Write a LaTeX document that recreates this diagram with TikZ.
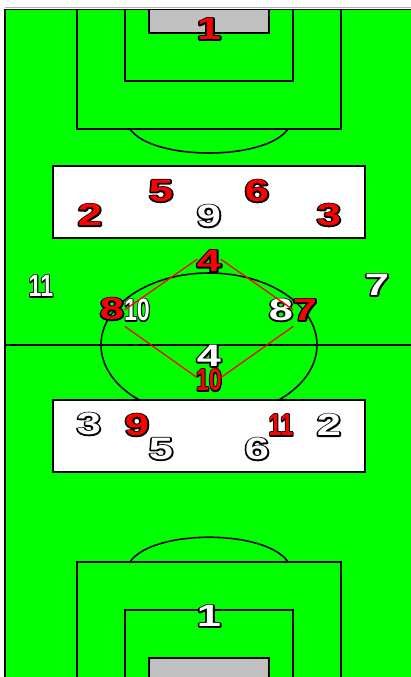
\documentclass[tikz,border=0pt]{standalone}
\usepackage{fontspec}
\setmainfont{Liberation Sans}
\usetikzlibrary{positioning}
\definecolor{pitch}{RGB}{0,255,0}
\definecolor{goalgrey}{RGB}{192,192,192}

% black stroked copy under the filled digits
\newcommand{\outlined}[1]{\rlap{\special{pdf:literal direct 1 Tr 2.6 w 1 j 0 0 0 RG}#1\special{pdf:literal direct 0 Tr}}#1}
\newcommand{\plnum}[1]{\scalebox{1.4}[1]{\outlined{#1}}}
\newcommand{\plnarrow}[1]{\scalebox{0.75}[1]{\outlined{#1}}}

\begin{document}
\begin{tikzpicture}[
    x=1pt, y=-1pt,
    line/.style={draw=black, line width=1.6pt},
    whitebox/.style={line, fill=white},
    goal/.style={line, fill=goalgrey},
    redno/.style={inner sep=0pt, text=red, font=\fontsize{31}{31}\selectfont\bfseries},
    whiteno/.style={inner sep=0pt, text=white, font=\fontsize{31}{31}\selectfont\bfseries},
    link/.style={draw=red, line width=1.3pt, shorten >=14.5pt, shorten <=14.5pt}
]
    \useasboundingbox (0,0) rectangle (411,677);
    \clip (0,0) rectangle (411,677);

    % pitch
    \draw[gray!60, line width=1pt] (5,8) -- (411,8);
    \fill[pitch] (5,9.5) rectangle (420,690);
    \draw[line] (5,690) -- (5,9.5) -- (420,9.5);
    \draw[line] (5,345) -- (420,345);
    \draw[line] (209,345) ellipse [x radius=108pt, y radius=72pt];

    % top end
    \draw[line] (77,9.5) rectangle (341,129);
    \draw[line] (125,9.5) rectangle (293,81);
    \draw[goal] (149,9.5) rectangle (269,33);
    \draw[line] (130,129) .. controls (152,161) and (266,161) .. (288,129);

    % bottom end
    \draw[line] (77,562) rectangle (341,690);
    \draw[line] (125,610) rectangle (293,690);
    \draw[goal] (149,658) rectangle (269,690);
    \draw[line] (130,562) .. controls (152,529) and (266,529) .. (288,562);

    % midfield zones
    \draw[whitebox] (53,166) rectangle (365,238);
    \draw[whitebox] (53,400) rectangle (365,472);

    % white team
    \node[whiteno] (w9) at (209,216) {\plnum{9}};
    \node[whiteno] (w11) at (41,286) {\plnarrow{11}};
    \node[whiteno] (w10) at (137,310) {\plnarrow{10}};
    \node[whiteno] (w8) at (281,310) {\plnum{8}};
    \node[whiteno] (w7) at (377,285) {\plnum{7}};
    \node[whiteno] (w4) at (209,356) {\plnum{4}};
    \node[whiteno] (w3) at (89,424) {\plnum{3}};
    \node[whiteno] (w5) at (161,449) {\plnum{5}};
    \node[whiteno] (w6) at (257,449) {\plnum{6}};
    \node[whiteno] (w2) at (329,425) {\plnum{2}};
    \node[whiteno] (w1) at (209,616) {\plnum{1}};

    % red team
    \node[redno] (r1) at (209,29) {\plnum{1}};
    \node[redno] (r2) at (90,215) {\plnum{2}};
    \node[redno] (r5) at (161,191) {\plnum{5}};
    \node[redno] (r6) at (257,191) {\plnum{6}};
    \node[redno] (r3) at (329,215) {\plnum{3}};
    \node[redno] (r4) at (209,261) {\plnum{4}};
    \node[redno] (r8) at (112,309) {\plnum{8}};
    \node[redno] (r7) at (305,310) {\plnum{7}};
    \node[redno] (r10) at (209,380) {\plnarrow{10}};
    \node[redno] (r9) at (137,425) {\plnum{9}};
    \node[redno] (r11) at (281,425) {\plnarrow{11}};

    % midfield diamond
    \coordinate (fTop) at (209,251);
    \coordinate (fLeft) at (113,318);
    \coordinate (fRight) at (305,318);
    \coordinate (fBot) at (209,386);
    \draw[link] (fTop) -- (fLeft);
    \draw[link] (fTop) -- (fRight);
    \draw[link] (fLeft) -- (fBot);
    \draw[link] (fRight) -- (fBot);
\end{tikzpicture}
\end{document}
